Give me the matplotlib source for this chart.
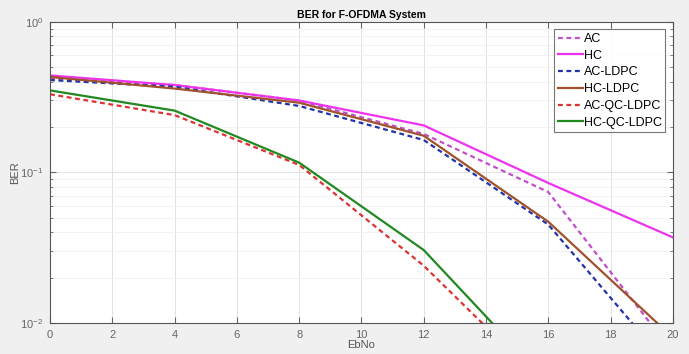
import matplotlib
matplotlib.use("Agg")
import matplotlib.pyplot as plt
from matplotlib.ticker import LogLocator, NullFormatter

plt.rcParams['font.family'] = ['Liberation Sans', 'DejaVu Sans']

ebno = [0, 4, 8, 12, 16, 20]
ac = [0.42, 0.38, 0.30, 0.18, 0.074, 0.0064]
hc = [0.44, 0.38, 0.30, 0.205, 0.085, 0.037]
ac_ldpc = [0.41, 0.37, 0.276, 0.164, 0.045, 0.0048]
hc_ldpc = [0.43, 0.36, 0.29, 0.175, 0.047, 0.008]
ac_qc = [0.33, 0.24, 0.112, 0.024, 0.0037, 0.0006]
hc_qc = [0.35, 0.257, 0.116, 0.0305, 0.004, 0.0006]

fig = plt.figure(figsize=(6.89, 3.54), dpi=100, facecolor="#f0f0f0")
ax = fig.add_axes([0.0726, 0.0876, 0.904, 0.851])
ax.set_facecolor("white")

dash = (0, (2.2, 1.6))
ax.plot(ebno, ac, color="#c050c8", ls=dash, lw=1.6, label="AC")
ax.plot(ebno, hc, color="#ee33ee", ls="-", lw=1.6, label="HC")
ax.plot(ebno, ac_ldpc, color="#2233aa", ls=dash, lw=1.6, label="AC-LDPC")
ax.plot(ebno, hc_ldpc, color="#a0522d", ls="-", lw=1.6, label="HC-LDPC")
ax.plot(ebno, ac_qc, color="#dd3333", ls=dash, lw=1.6, label="AC-QC-LDPC")
ax.plot(ebno, hc_qc, color="#228822", ls="-", lw=1.6, label="HC-QC-LDPC")

ax.set_yscale("log")
ax.set_xlim(0, 20)
ax.set_ylim(1e-2, 1)
ax.set_xticks(range(0, 21, 2))
ax.yaxis.set_minor_locator(LogLocator(base=10, subs=range(2, 10)))
ax.yaxis.set_minor_formatter(NullFormatter())
ax.grid(True, which="major", color="#e2e2e2", lw=0.7)
ax.grid(True, which="minor", axis="y", color="#f0f0f0", lw=0.6)
ax.tick_params(which="both", direction="in", colors="#666666", labelsize=8, top=True, right=True, pad=5)
ax.tick_params(which="major", length=4)
ax.tick_params(which="minor", length=2)
for s in ax.spines.values():
    s.set_color("#555555")
    s.set_linewidth(0.8)

ax.set_title("BER for F-OFDMA System", fontsize=7.5, fontweight="bold", pad=3)
ax.set_xlabel("EbNo", fontsize=8, color="#555555", labelpad=0)
ax.set_ylabel("BER", fontsize=8, color="#555555", labelpad=0)

leg = ax.legend(loc="upper right", fontsize=9, frameon=True, fancybox=False,
                edgecolor="#555555", handlelength=2.0, handletextpad=0.05,
                borderpad=0.3, labelspacing=0.38, borderaxespad=0.6)
leg.get_frame().set_linewidth(0.8)

fig.savefig("out.png", dpi=100, facecolor=fig.get_facecolor())
